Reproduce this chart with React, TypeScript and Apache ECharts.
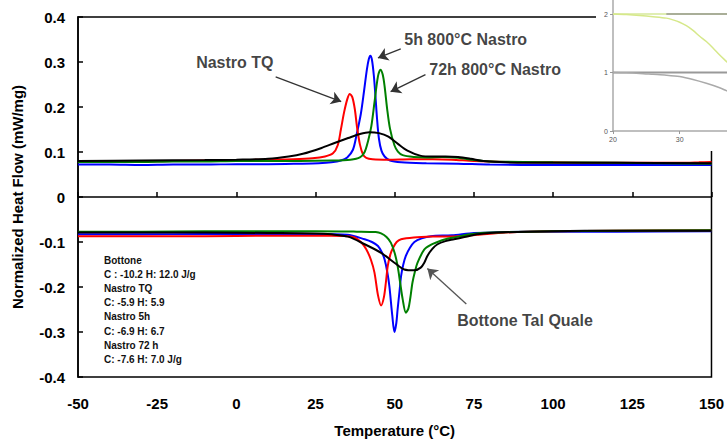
import React, { useEffect, useRef } from "react";
import * as echarts from "echarts";

const FONT = "'Liberation Sans', Arial, sans-serif";

// ---- main DSC traces: [temperature °C, heat flow mW/mg] ----
const blueCooling5h: number[][] = [
  [-50, 0.072], [-40, 0.072], [-30, 0.071], [-20, 0.072], [-10, 0.072], [0, 0.073], [10, 0.073], [20, 0.074],
  [26, 0.075], [30, 0.077], [33, 0.081], [35, 0.088], [36.8, 0.105], [38, 0.14], [39.3, 0.185], [40.3, 0.235],
  [41.2, 0.283], [41.8, 0.306], [42.3, 0.314], [42.8, 0.305], [43.4, 0.27], [43.9, 0.225], [44.4, 0.175],
  [45, 0.13], [45.8, 0.103], [46.8, 0.09], [48.5, 0.081], [52, 0.077], [60, 0.075], [70, 0.074], [80, 0.072],
  [100, 0.071], [120, 0.071], [135, 0.071], [150, 0.071],
];
const redCoolingTQ: number[][] = [
  [-50, 0.078], [-40, 0.078], [-30, 0.079], [-20, 0.08], [-10, 0.081], [0, 0.082], [10, 0.083], [18, 0.084],
  [24, 0.086], [28, 0.09], [30.5, 0.097], [32, 0.115], [33, 0.15], [34, 0.188], [35, 0.217], [35.8, 0.229],
  [36.6, 0.222], [37.4, 0.195], [38.1, 0.155], [39, 0.117], [40, 0.094], [41, 0.087], [43, 0.084], [48, 0.083],
  [55, 0.084], [62, 0.084], [68, 0.083], [75, 0.08], [85, 0.078], [100, 0.077], [120, 0.076], [140, 0.076],
  [146, 0.077], [150, 0.078],
];
const greenCooling72h: number[][] = [
  [-50, 0.078], [-40, 0.078], [-30, 0.078], [-20, 0.079], [-10, 0.079], [0, 0.08], [10, 0.08], [20, 0.08],
  [30, 0.081], [36, 0.083], [39, 0.088], [40.5, 0.1], [41.6, 0.125], [42.6, 0.157], [43.6, 0.21], [44.7, 0.268],
  [45.5, 0.283], [46.2, 0.272], [46.8, 0.246], [47.6, 0.196], [48.5, 0.152], [49.9, 0.115], [51, 0.101],
  [52.5, 0.093], [56, 0.089], [60, 0.088], [65, 0.089], [70, 0.087], [75, 0.082], [80, 0.079], [100, 0.077],
  [120, 0.076], [150, 0.074],
];
const blackCoolingBottone: number[][] = [
  [-50, 0.08], [-30, 0.081], [-10, 0.082], [0, 0.083], [10, 0.085], [16.5, 0.09], [21, 0.096], [26.9, 0.109],
  [31, 0.12], [35.3, 0.131], [39, 0.14], [42, 0.144], [45, 0.142], [48, 0.134], [51, 0.118], [54, 0.103],
  [58, 0.092], [62, 0.09], [66, 0.09], [70, 0.089], [74, 0.085], [78, 0.08], [85, 0.077], [100, 0.076],
  [120, 0.076], [150, 0.075],
];

const redHeatingTQ: number[][] = [
  [-50, -0.087], [-30, -0.087], [-10, -0.087], [10, -0.086], [20, -0.086], [30, -0.086], [35, -0.087],
  [37.3, -0.09], [39.3, -0.1], [41, -0.116], [42.5, -0.14], [43.6, -0.168], [44.7, -0.218], [45.7, -0.241],
  [46.6, -0.222], [47.2, -0.19], [47.8, -0.153], [48.6, -0.128], [49.4, -0.114], [50.6, -0.1], [52, -0.094],
  [56, -0.09], [62, -0.088], [70, -0.087], [76, -0.084], [85, -0.079], [100, -0.076], [120, -0.075], [150, -0.074],
];
const blueHeating5h: number[][] = [
  [-50, -0.083], [-30, -0.083], [-10, -0.082], [10, -0.082], [25, -0.082], [35, -0.084], [40.5, -0.094],
  [42.8, -0.1], [44.7, -0.109], [46, -0.124], [46.8, -0.139], [47.6, -0.165], [48.3, -0.198], [49.2, -0.262],
  [49.9, -0.3], [50.5, -0.28], [50.9, -0.25], [51.5, -0.21], [52, -0.176], [52.7, -0.15], [53.5, -0.131],
  [54.8, -0.113], [56.2, -0.1], [58.5, -0.092], [61.4, -0.087], [68, -0.085], [75, -0.08], [85, -0.078],
  [100, -0.077], [120, -0.077], [150, -0.076],
];
const greenHeating72h: number[][] = [
  [-50, -0.077], [-30, -0.077], [-10, -0.076], [10, -0.076], [25, -0.076], [38, -0.077], [44, -0.078],
  [45.7, -0.081], [47.4, -0.089], [48.8, -0.102], [50, -0.125], [50.9, -0.153], [51.7, -0.19], [52.5, -0.227],
  [53.5, -0.257], [54.3, -0.248], [54.9, -0.225], [55.6, -0.19], [56.4, -0.165], [57.2, -0.146],
  [59.3, -0.117], [61.5, -0.106], [63.5, -0.1], [66, -0.094], [68.7, -0.09], [73.9, -0.083], [80, -0.079],
  [100, -0.076], [120, -0.075], [150, -0.074],
];
const blackHeatingBottone: number[][] = [
  [-50, -0.079], [-30, -0.079], [-10, -0.079], [10, -0.08], [25, -0.081], [30, -0.083], [35.3, -0.088],
  [40.5, -0.105], [45.7, -0.124], [49.9, -0.146], [53, -0.161], [56.2, -0.163], [58.2, -0.157],
  [59.4, -0.145], [60.3, -0.131], [61.8, -0.116], [63.5, -0.105], [66, -0.098], [68.7, -0.094],
  [72, -0.089], [76, -0.083], [82, -0.079], [100, -0.076], [120, -0.075], [150, -0.075],
];

// ---- annotations (data coordinates) ----
const calloutLabels = [
  { name: "Nastro TQ", value: [-12.7, 0.299] },
  { name: "5h 800°C Nastro", value: [53.0, 0.351] },
  { name: "72h 800°C Nastro", value: [60.9, 0.283] },
  { name: "Bottone Tal Quale", value: [69.7, -0.275] },
];
const calloutArrowsTop = [
  [[12.4, 0.267], [33.1, 0.212]],
  [[51.9, 0.329], [44.7, 0.309]],
  [[59.7, 0.272], [48.7, 0.234]],
];
const calloutArrowsBottom = [[[72.6, -0.238], [60.3, -0.159]]];

const statsLines = [
  "Bottone",
  "C : -10.2 H: 12.0 J/g",
  "Nastro TQ",
  "C: -5.9 H: 5.9",
  "Nastro 5h",
  "C: -6.9 H: 6.7",
  "Nastro 72 h",
  "C: -7.6 H: 7.0 J/g",
];

// ---- cropped inset (top-right) ----
const insetYellowCurve: number[][] = [
  [20, 2.0], [22, 1.99], [24, 1.975], [26, 1.955], [28, 1.93], [29, 1.9], [30, 1.86], [31, 1.8], [32, 1.72],
  [33, 1.62], [34, 1.53], [35, 1.42], [36, 1.3], [37, 1.19], [38, 1.08],
];
const insetYellowFlat: number[][] = [[20, 2.0], [33, 2.0]];
const insetGreyFlatTop: number[][] = [[28, 2.0], [40, 2.0]];
const insetGreyFlat: number[][] = [[20, 1.0], [40, 1.0]];
const insetGreyCurve: number[][] = [
  [20, 1.0], [22, 0.995], [24, 0.985], [26, 0.97], [28, 0.955], [30, 0.93], [32, 0.88], [34, 0.815],
  [36, 0.74], [37, 0.69], [38, 0.64],
];

function mainLine(data: number[][], color: string) {
  return {
    type: "line",
    data,
    xAxisIndex: 0,
    yAxisIndex: 0,
    showSymbol: false,
    smooth: 0.3,
    lineStyle: { color, width: 2 },
    itemStyle: { color },
    z: 2,
  };
}

function insetLine(data: number[][], color: string, width: number) {
  return {
    type: "line",
    data,
    xAxisIndex: 1,
    yAxisIndex: 1,
    showSymbol: false,
    smooth: 0.3,
    lineStyle: { color, width },
    itemStyle: { color },
    z: 120,
  };
}

export default function App() {
  const ref = useRef<HTMLDivElement>(null);

  useEffect(() => {
    if (!ref.current) return;
    const chart = echarts.init(ref.current, undefined, { renderer: "svg" });
    const boldAxis = { fontFamily: FONT, fontWeight: "bold", fontSize: 15, color: "#000" };
    const insetLabel = { fontFamily: FONT, fontSize: 7, color: "#555", margin: 5, showMaxLabel: false };

    chart.setOption({
      animation: false,
      backgroundColor: "#fff",
      grid: [
        { left: 78, right: 11, top: 17, bottom: 65, show: true, borderColor: "#000", borderWidth: 1.5, backgroundColor: "transparent" },
        { left: 613, right: 0, top: 0, bottom: 312 },
      ],
      xAxis: [
        {
          type: "value",
          gridIndex: 0,
          min: -50,
          max: 150,
          interval: 25,
          axisLine: { show: true, lineStyle: { color: "#000", width: 1.5 } },
          axisTick: { show: true, inside: true, length: 5, lineStyle: { color: "#000", width: 1.5 } },
          axisLabel: { ...boldAxis, margin: 19 },
          splitLine: { show: false },
          name: "Temperature (°C)",
          nameLocation: "middle",
          nameGap: 46,
          nameTextStyle: boldAxis,
        },
        {
          type: "value",
          gridIndex: 1,
          min: 20,
          max: 37.1,
          interval: 10,
          z: 110,
          axisLine: { show: true, onZero: false, lineStyle: { color: "#aaa", width: 1.5 } },
          axisTick: { show: true, length: 3, lineStyle: { color: "#999" } },
          axisLabel: insetLabel,
          splitLine: { show: false },
        },
      ],
      yAxis: [
        {
          type: "value",
          gridIndex: 0,
          min: -0.4,
          max: 0.4,
          interval: 0.1,
          axisLine: { show: true, onZero: false, lineStyle: { color: "#000", width: 1.5 } },
          axisTick: { show: true, inside: true, length: 5, lineStyle: { color: "#000", width: 1.5 } },
          axisLabel: { ...boldAxis, margin: 13 },
          splitLine: { show: false },
          name: "Normalized Heat Flow (mW/mg)",
          nameLocation: "middle",
          nameGap: 53,
          nameTextStyle: boldAxis,
        },
        {
          type: "value",
          gridIndex: 1,
          min: 0,
          max: 2.24,
          interval: 1,
          z: 110,
          axisLine: { show: true, onZero: false, lineStyle: { color: "#aaa", width: 1.5 } },
          axisTick: { show: true, length: 3, lineStyle: { color: "#999" } },
          axisLabel: insetLabel,
          splitLine: { show: false },
        },
      ],
      graphic: [
        { type: "rect", z: 100, shape: { x: 596, y: 0, width: 131, height: 151 }, style: { fill: "#fff" } },
        {
          type: "text",
          left: 104,
          top: 253,
          z: 50,
          style: {
            text: statsLines.join("\n"),
            fontFamily: FONT,
            fontWeight: "bold",
            fontSize: 10,
            lineHeight: 14.2,
            fill: "#111",
          },
        },
      ],
      series: [
        mainLine(blueCooling5h, "#0000ff"),
        mainLine(redCoolingTQ, "#ff0000"),
        mainLine(greenCooling72h, "#008000"),
        mainLine(blackCoolingBottone, "#000000"),
        mainLine(blueHeating5h, "#0000ff"),
        mainLine(redHeatingTQ, "#ff0000"),
        mainLine(greenHeating72h, "#008000"),
        mainLine(blackHeatingBottone, "#000000"),
        {
          type: "lines",
          coordinateSystem: "cartesian2d",
          xAxisIndex: 0,
          yAxisIndex: 0,
          symbol: ["none", "arrow"],
          symbolSize: 10,
          lineStyle: { color: "#333", width: 1.3, opacity: 1 },
          itemStyle: { color: "#111" },
          data: calloutArrowsTop.map((c) => ({ coords: c })),
          z: 5,
        },
        {
          type: "lines",
          coordinateSystem: "cartesian2d",
          xAxisIndex: 0,
          yAxisIndex: 0,
          symbol: ["none", "arrow"],
          symbolSize: 10,
          lineStyle: { color: "#555", width: 1.3, opacity: 1 },
          data: calloutArrowsBottom.map((c) => ({ coords: c })),
          z: 5,
        },
        {
          type: "scatter",
          xAxisIndex: 0,
          yAxisIndex: 0,
          symbolSize: 0,
          data: calloutLabels,
          silent: true,
          label: {
            show: true,
            position: "right",
            distance: 0,
            formatter: "{b}",
            fontFamily: FONT,
            fontWeight: "bold",
            fontSize: 16,
            color: "#111",
          },
          z: 6,
        },
        insetLine(insetYellowFlat, "#d6e89a", 1.5),
        insetLine(insetGreyFlatTop, "#a9ae98", 2),
        insetLine(insetYellowCurve, "#d6e88a", 1.5),
        insetLine(insetGreyFlat, "#999999", 2),
        insetLine(insetGreyCurve, "#aaaaaa", 1.5),
      ],
    });
    return () => chart.dispose();
  }, []);

  return <div ref={ref} style={{ position: "absolute", left: 0, top: 0, width: 727, height: 443 }} />;
}
